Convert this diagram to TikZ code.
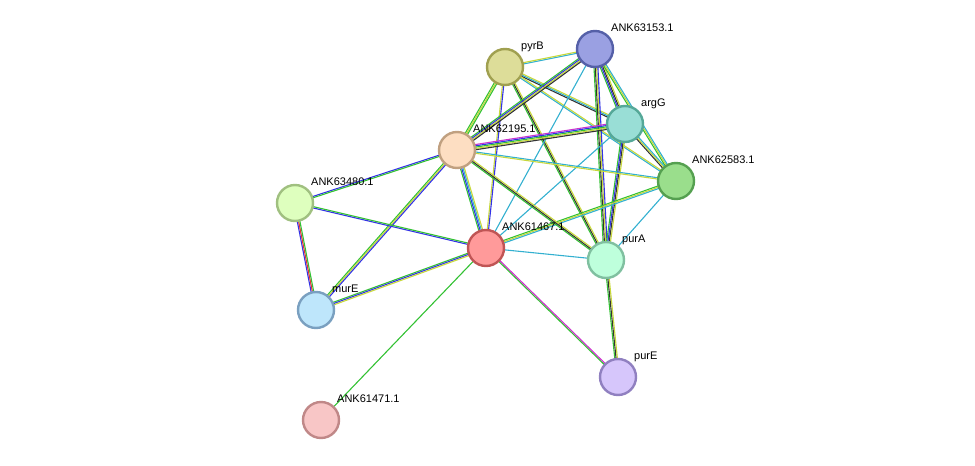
\documentclass[tikz,border=0pt]{standalone}
\usepackage{fontspec}
\setmainfont{Liberation Sans}
\usetikzlibrary{calc,backgrounds}

\definecolor{cTm}{HTML}{33C133}
\definecolor{cYl}{HTML}{C8D83C}
\definecolor{cBl}{HTML}{3333E6}
\definecolor{cBk}{HTML}{333333}
\definecolor{cCy}{HTML}{33B0D0}
\definecolor{cMg}{HTML}{CC33CC}
\definecolor{cRd}{HTML}{E63333}

\tikzset{
  gene/.style={circle, minimum size=36pt, inner sep=0pt, line width=2.4pt},
  genetext/.style={anchor=base west, inner sep=0pt, font=\fontsize{11}{13}\selectfont},
  link/.style={line width=1.1pt},
}

% \Gene{name}{x}{y}{fill}{border}{text}
\newcommand{\Gene}[6]{
  \definecolor{#1-f}{HTML}{#4}
  \definecolor{#1-d}{HTML}{#5}
  \node[gene, fill=#1-f, draw=#1-d] (#1) at (#2,#3) {};
  \node[genetext] (#1-t) at ($(#1)+(16,-18)$) {#6};
}
% \Link{a}{b}{colour list}
\newcommand{\Link}[3]{
  \foreach \c [count=\k] in {#3} {\xdef\nlinks{\k}}
  \foreach \c [count=\k] in {#3} {
    \pgfmathsetmacro{\off}{(\k-(\nlinks+1)/2)*1.3}
    \draw[link, draw=\c] ($(#1)!\off pt!90:(#2)$) -- ($(#2)!\off pt!-90:(#1)$);
  }
}

\begin{document}
\begin{tikzpicture}[x=1pt, y=-1pt]
  \useasboundingbox (0,0) rectangle (975,466);

  \Gene{pyrB}{505}{67}{DDDD99}{A0A050}{pyrB}
  \Gene{ank63153}{595}{49}{9AA0E2}{5560A8}{ANK63153.1}
  \Gene{argG}{625}{124}{99DED6}{55A898}{argG}
  \Gene{ank62583}{676}{181}{9ADE8C}{55A050}{ANK62583.1}
  \Gene{ank62195}{457}{150}{FDDEC2}{C0A080}{ANK62195.1}
  \Gene{ank63480}{295}{203}{DEFFBE}{A0C080}{ANK63480.1}
  \Gene{ank61467}{486}{248}{FF9A9A}{C05555}{ANK61467.1}
  \Gene{purA}{606}{260}{BEFFDC}{80C0A0}{purA}
  \Gene{murE}{316}{310}{BEE6FB}{7AA0C0}{murE}
  \Gene{purE}{618}{377}{D6C6FB}{9080C0}{purE}
  \Gene{ank61471}{321}{420}{F8C6C6}{C08888}{ANK61471.1}

  \begin{scope}[on background layer]
    \Link{pyrB}{ank63153}{cCy,cYl}
    \Link{pyrB}{argG}{cBk,cCy,cYl}
    \Link{pyrB}{ank62583}{cCy,cYl}
    \Link{pyrB}{ank62195}{cTm,cYl,cTm}
    \Link{pyrB}{ank61467}{cYl,cBl}
    \Link{pyrB}{purA}{cTm,cBk,cYl}
    \Link{ank63153}{argG}{cTm,cBl,cBk,cYl}
    \Link{ank63153}{ank62583}{cTm,cYl,cCy}
    \Link{ank63153}{ank62195}{cTm,cBl,cYl,cBk}
    \Link{ank63153}{purA}{cTm,cBk,cYl,cBl}
    \Link{ank63153}{ank61467}{cCy}
    \Link{argG}{ank62583}{cBk,cYl,cCy}
    \Link{argG}{ank62195}{cMg,cBl,cTm,cYl,cBk}
    \Link{argG}{purA}{cTm,cBl,cBk,cYl}
    \Link{argG}{ank61467}{cCy}
    \Link{ank62583}{ank62195}{cCy,cYl}
    \Link{ank62583}{ank61467}{cTm,cYl,cCy}
    \Link{ank62583}{purA}{cCy}
    \Link{ank62195}{ank63480}{cBl,cTm}
    \Link{ank62195}{ank61467}{cTm,cBl,cCy,cYl}
    \Link{ank62195}{purA}{cTm,cBk,cYl}
    \Link{ank62195}{murE}{cTm,cYl,cBl}
    \Link{ank63480}{ank61467}{cBl,cTm}
    \Link{ank63480}{murE}{cBl,cRd,cTm}
    \Link{ank61467}{murE}{cTm,cBl,cYl}
    \Link{ank61467}{purA}{cCy}
    \Link{ank61467}{purE}{cTm,cMg}
    \Link{ank61467}{ank61471}{cTm}
    \Link{purA}{purE}{cTm,cBk,cYl}
  \end{scope}
\end{tikzpicture}
\end{document}
